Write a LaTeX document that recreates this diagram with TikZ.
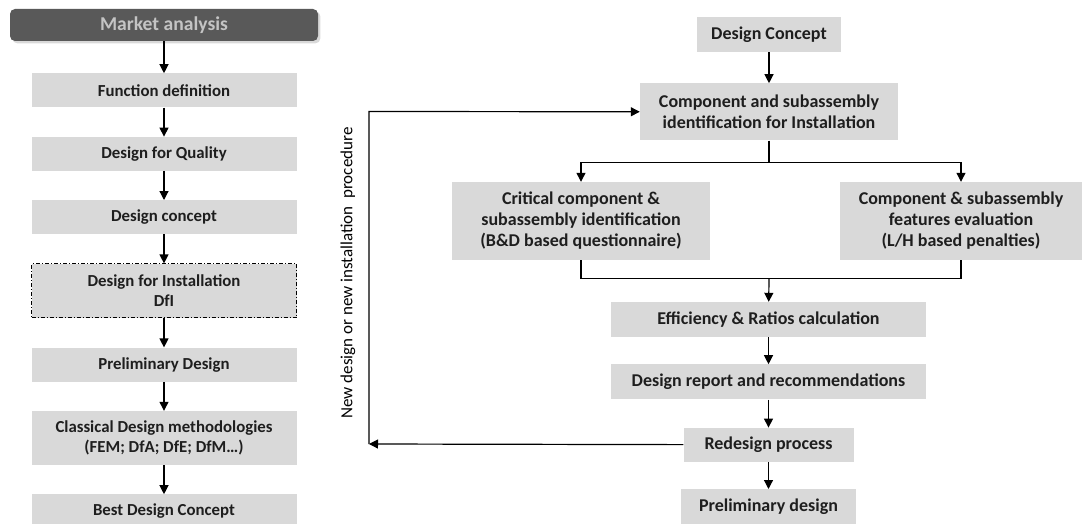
\documentclass[tikz,border=0pt]{standalone}
\usepackage{fontspec}
\setmainfont{Carlito}
\usetikzlibrary{positioning,arrows.meta,shadows,calc}
\definecolor{boxgray}{HTML}{D9D9D9}
\definecolor{darkbox}{HTML}{595959}
\definecolor{darktext}{HTML}{C4C4C4}
\definecolor{inktext}{HTML}{1E1E1E}

\begin{document}
\begin{tikzpicture}[x=1pt,y=1pt,node distance=29pt,
    stepbox/.style={fill=boxgray,text=inktext,align=center,inner sep=2pt,
      minimum height=34pt,font=\bfseries\fontsize{18}{21}\selectfont},
    leftbox/.style={stepbox,minimum width=265pt,font=\bfseries\fontsize{16.8}{20}\selectfont},
    twoline/.style={minimum height=54pt},
    arr/.style={line width=1.2pt,-{Triangle[length=9pt,width=9pt]}},
    line/.style={line width=1.2pt}]
  \useasboundingbox (0,0) rectangle (1082,-524);
  % left column
  \node[fill=darkbox,text=darktext,rounded corners=5pt,minimum width=308pt,
        minimum height=32pt,drop shadow={opacity=0.3},
        font=\bfseries\fontsize{19.6}{22}\selectfont] (ma) at (164,-25) {Market analysis};
  \node[leftbox,below=32pt of ma] (fd) {Function definition};
  \node[leftbox,below=of fd] (dq) {Design for Quality};
  \node[leftbox,below=of dq] (dc) {Design concept};
  \node[leftbox,twoline,below=of dc,draw,line width=1pt,
        dash pattern=on 4pt off 2pt on 1pt off 2pt] (dfi) {Design for Installation\\DfI};
  \node[leftbox,below=of dfi] (pd) {Preliminary Design};
  \node[leftbox,twoline,below=of pd] (cd) {Classical Design methodologies\\(FEM; DfA; DfE; DfM\dots)};
  \node[leftbox,minimum height=33pt,below=of cd] (bdc) {Best Design Concept};
  \path[arr] (ma) edge (fd)
             (fd) edge (dq)
             (dq) edge (dc)
             (dc) edge (dfi)
             (dfi) edge (pd)
             (pd) edge (cd)
             (cd) edge (bdc);
  % right flow
  \node[stepbox,minimum width=144pt,minimum height=35pt] (dcon) at (769,-34.5) {Design Concept};
  \node[stepbox,minimum width=258pt,minimum height=57pt,below=31pt of dcon] (comp)
        {Component and subassembly\\identification for Installation};
  \node[stepbox,minimum width=258pt,minimum height=78pt] (crit) at (581,-221)
        {Critical component \&\\subassembly identification\\(B\&D based questionnaire)};
  \node[stepbox,minimum width=242pt,minimum height=78pt] (feat) at (961,-221)
        {Component \& subassembly\\features evaluation\\(L/H based penalties)};
  \node[stepbox,minimum width=315pt,minimum height=35pt] (eff) at (768.5,-319.5)
        {Efficiency \& Ratios calculation};
  \node[stepbox,minimum width=315pt,minimum height=35pt,below=27pt of eff] (rep)
        {Design report and recommendations};
  \node[stepbox,minimum width=170pt,below=28pt of rep] (red) {Redesign process};
  \node[stepbox,minimum width=175pt,minimum height=35pt,below=27pt of red] (pdes) {Preliminary design};
  \coordinate (split) at ($(comp.south)+(0,-22)$);
  \coordinate (merge) at ($(comp.south)+(0,-138)$);
  \coordinate (lb) at (369,-444);
  \coordinate (lt) at (369,-111.5);
  \draw[arr] (dcon) -- (comp);
  \draw[line] (comp) -- (split);
  \draw[arr] (split) -| (crit);
  \draw[arr] (split) -| (feat);
  \draw[line] (crit) |- (merge) -| (feat);
  \draw[arr] (merge) -- (eff);
  \path[arr] (eff) edge (rep)
             (rep) edge (red)
             (red) edge (pdes);
  % feedback loop
  \draw[arr] (red) -- (lb);
  \draw[arr] (lb) -- (lt) -- (comp);
  \node[rotate=90,font=\fontsize{17}{20}\selectfont] (loop) at (348,-273)
        {New design or new installation\ \ procedure};
\end{tikzpicture}
\end{document}
